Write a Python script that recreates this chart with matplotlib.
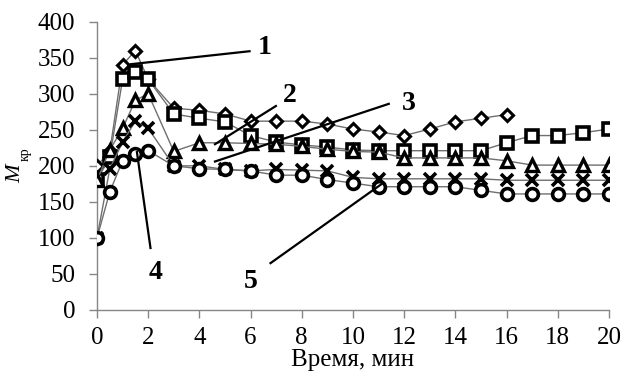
import matplotlib
matplotlib.use("Agg")
import matplotlib.pyplot as plt

# ---- data ----
x_head = [0, 0.5, 1, 1.5, 2]
x_tail = list(range(3, 21))
time_full = x_head + x_tail
time_s1 = x_head + list(range(3, 17))

s1_diamond = [200, 220, 340, 360, 320, 280, 277, 272, 262, 262, 262, 258, 251, 247, 242, 251, 261, 266, 271]
s2_square = [180, 212, 320, 330, 320, 272, 266, 261, 242, 233, 229, 226, 222, 221, 221, 221, 221, 221,
             232, 242, 242, 246, 251]
s3_triangle = [180, 222, 252, 291, 300, 220, 232, 232, 231, 230, 227, 223, 220, 219, 211, 211, 211, 211,
               207, 201, 201, 201, 201]
s4_cross = [100, 196, 233, 262, 252, 200, 200, 195, 193, 195, 194, 193, 184, 182, 182, 182, 182, 182,
            180, 180, 180, 180, 180]
s5_circle = [100, 164, 207, 216, 221, 200, 196, 195, 193, 187, 187, 181, 176, 171, 171, 171, 171, 166,
             161, 161, 161, 161, 161]

x_ticks = list(range(0, 21, 2))
y_ticks = list(range(0, 401, 50))

plt.rcParams['font.family'] = ['Liberation Serif', 'DejaVu Serif']

fig = plt.figure(figsize=(6.25, 3.81), dpi=100)
ax = fig.add_axes([0.1552, 0.1864, 0.819, 0.7567])

line_c = '#6f6f6f'
ax.plot(time_s1, s1_diamond, color=line_c, lw=1.0, marker='D', ms=6.5, mfc='white', mec='black', mew=2.2, zorder=3)
ax.plot(time_full, s2_square, color=line_c, lw=1.0, marker='s', ms=9, mfc='white', mec='black', mew=2.6, zorder=3)
ax.plot(time_full, s3_triangle, color=line_c, lw=1.0, marker='^', ms=8.5, mfc='white', mec='black', mew=2.4, zorder=3)
ax.plot(time_full, s4_cross, color=line_c, lw=1.0, marker='x', ms=8, mfc='white', mec='black', mew=2.6, zorder=3)
ax.plot(time_full, s5_circle, color=line_c, lw=1.0, marker='o', ms=8.5, mfc='white', mec='black', mew=2.6, zorder=3)

ax.set_xlim(0, 20)
ax.set_ylim(0, 400)
ax.set_xticks(x_ticks)
ax.set_yticks(y_ticks)
for s in ['top', 'right']:
    ax.spines[s].set_visible(False)
for s in ['left', 'bottom']:
    ax.spines[s].set_color('#868686')
    ax.spines[s].set_linewidth(1.0)
ax.tick_params(axis='both', direction='out', length=5.5, width=1.0, color='#868686',
               labelsize=18, labelcolor='black')
ax.tick_params(axis='x', pad=7)
ax.tick_params(axis='y', pad=10)

ax.set_xlabel('Время, мин', fontsize=18, labelpad=0)

# y label: italic M with subscript "кр"
fig.text(0.026, 0.545, 'M', rotation=90, style='italic', fontsize=16, ha='center', va='center')
fig.text(0.040, 0.595, 'кр', rotation=90, fontsize=10, ha='center', va='center')

# annotation leader lines and labels
ann = [
    ('1', (1.32, 341), (5.96, 359), (6.55, 364)),
    ('2', (4.61, 230), (6.99, 283), (7.55, 297)),
    ('3', (4.61, 206), (11.4, 286), (12.2, 287)),
    ('4', (1.56, 219), (2.09, 86), (2.3, 52)),
    ('5', (6.78, 65), (11.13, 175), (6.0, 40)),
]
for lab, p0, p1, pt in ann:
    ax.plot([p0[0], p1[0]], [p0[1], p1[1]], color='black', lw=1.6, zorder=5, clip_on=False)
    ax.text(pt[0], pt[1], lab, fontsize=20, fontweight='bold', ha='center', va='center', zorder=6)

fig.savefig('out.png', dpi=100)
